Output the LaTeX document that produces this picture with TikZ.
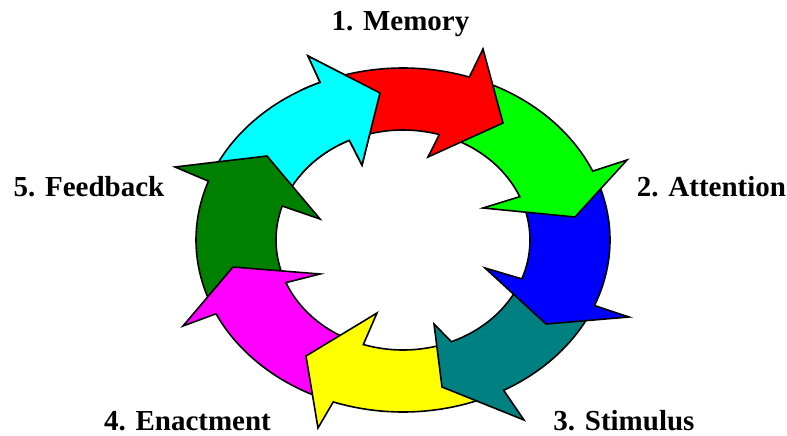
\documentclass[tikz,border=0pt]{standalone}
\usepackage{fontspec}
\setmainfont{Liberation Serif}

\definecolor{ringred}{HTML}{FF0000}
\definecolor{ringlime}{HTML}{00FF00}
\definecolor{ringblue}{HTML}{0000FF}
\definecolor{ringteal}{HTML}{008080}
\definecolor{ringyellow}{HTML}{FFFF00}
\definecolor{ringmagenta}{HTML}{FF00FF}
\definecolor{ringgreen}{HTML}{008000}
\definecolor{ringcyan}{HTML}{00FFFF}

\tikzset{
  piece/.style={draw=black, line width=1.6pt, line join=miter, miter limit=20},
  steplabel/.style={font=\fontsize{29}{32}\selectfont\bfseries, inner sep=0pt, anchor=base},
}

% One curved arrow of the ring.
% #1 fill, #2/#3 tail angle (outer/inner), #4/#5 neck angle (outer/inner),
% #6 outer barb, #7 tip, #8 inner barb
\newcommand\ringarrow[8]{%
  \filldraw[piece, fill=#1]
    plot[domain=#2:#4, samples=40] ({403+207*cos(\x)},{240-172*sin(\x)})
    -- #6 -- #7 -- #8
    -- plot[domain=#5:#3, samples=40] ({403+127*cos(\x)},{240-110*sin(\x)})
    -- cycle;}

\begin{document}
\begin{tikzpicture}[x=1pt,y=-1pt]
  \useasboundingbox (0,0) rectangle (787,436);

  % arrows, each head lying over the tail of the next one
  \ringarrow{ringcyan}{156}{156}{113.6}{115}{(308,56)}{(380,93)}{(362,165)}
  \ringarrow{ringgreen}{200}{200}{160}{162}{(175,167)}{(267,156)}{(320,219)}
  \ringarrow{ringmagenta}{245}{245}{205.4}{202.8}{(183,326)}{(233,267)}{(320,274)}
  \ringarrow{ringyellow}{-65}{-70}{-109.7}{-108.2}{(318,428)}{(306,356)}{(377,313)}
  \ringarrow{ringteal}{-26}{-26}{-60.9}{-67.6}{(524,420)}{(442,387)}{(434,324)}
  \ringarrow{ringblue}{19}{19}{-22.4}{-20.7}{(629,317)}{(546,324)}{(485,268)}
  \ringarrow{ringlime}{66}{66}{23.6}{23.2}{(627,160)}{(575,217)}{(483,208)}
  \ringarrow{ringred}{111}{111}{71.3}{73.4}{(483,49)}{(503,123)}{(428,157)}

  % the cyan head closes the ring over the red tail
  \begin{scope}
    \clip (300,40) rectangle (400,180);
    \ringarrow{ringcyan}{156}{156}{113.6}{115}{(308,56)}{(380,93)}{(362,165)}
  \end{scope}

  % stage labels
  \node[steplabel] (memory)    at (400.5,31)  {1. Memory};
  \node[steplabel] (attention) at (711.5,196) {2. Attention};
  \node[steplabel] (stimulus)  at (624,430)   {3. Stimulus};
  \node[steplabel] (enactment) at (187.5,430) {4. Enactment};
  \node[steplabel] (feedback)  at (89,196)    {5. Feedback};
\end{tikzpicture}
\end{document}
